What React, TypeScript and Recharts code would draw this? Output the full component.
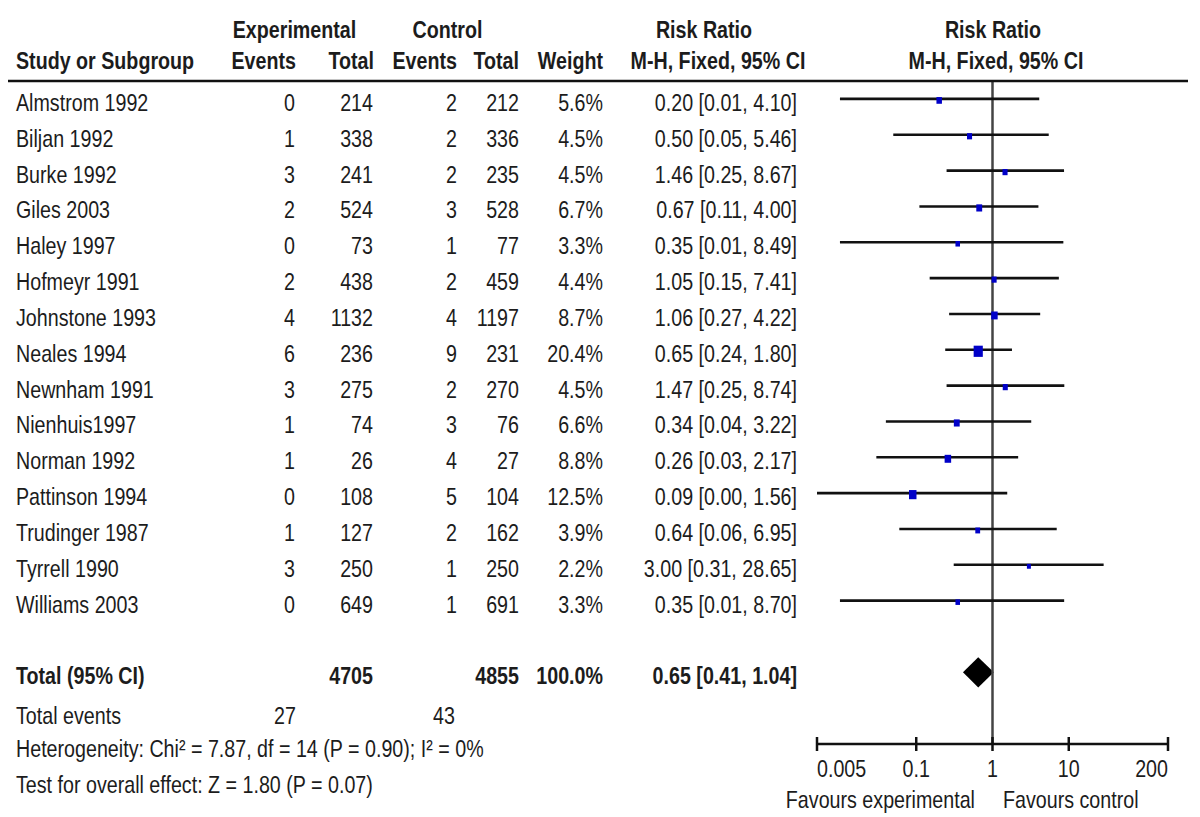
import React from 'react';
import { ScatterChart, Scatter, XAxis, YAxis, ErrorBar, ReferenceLine, ReferenceArea } from 'recharts';

// study rows
const studies = [
  'Almstrom 1992', 'Biljan 1992', 'Burke 1992', 'Giles 2003', 'Haley 1997',
  'Hofmeyr 1991', 'Johnstone 1993', 'Neales 1994', 'Newnham 1991', 'Nienhuis1997',
  'Norman 1992', 'Pattinson 1994', 'Trudinger 1987', 'Tyrrell 1990', 'Williams 2003',
];
const expEvents = [0, 1, 3, 2, 0, 2, 4, 6, 3, 1, 1, 0, 1, 3, 0];
const expTotal = [214, 338, 241, 524, 73, 438, 1132, 236, 275, 74, 26, 108, 127, 250, 649];
const ctrlEvents = [2, 2, 2, 3, 1, 2, 4, 9, 2, 3, 4, 5, 2, 1, 1];
const ctrlTotal = [212, 336, 235, 528, 77, 459, 1197, 231, 270, 76, 27, 104, 162, 250, 691];
const weights = [5.6, 4.5, 4.5, 6.7, 3.3, 4.4, 8.7, 20.4, 4.5, 6.6, 8.8, 12.5, 3.9, 2.2, 3.3];
const riskRatio = [0.20, 0.50, 1.46, 0.67, 0.35, 1.05, 1.06, 0.65, 1.47, 0.34, 0.26, 0.09, 0.64, 3.00, 0.35];
const ciLow = [0.01, 0.05, 0.25, 0.11, 0.01, 0.15, 0.27, 0.24, 0.25, 0.04, 0.03, 0.00, 0.06, 0.31, 0.01];
const ciHigh = [4.10, 5.46, 8.67, 4.00, 8.49, 7.41, 4.22, 1.80, 8.74, 3.22, 2.17, 1.56, 6.95, 28.65, 8.70];

// pooled result
const totalExp = 4705;
const totalCtrl = 4855;
const totalEventsExp = 27;
const totalEventsCtrl = 43;
const totalRR = 0.65;
const totalLow = 0.41;
const totalHigh = 1.04;

const xTicks = [0.005, 0.1, 1, 10, 200];
const X_MIN = 0.005;
const X_MAX = 200;
const TOTAL_ROW = 16;

const fmt2 = (v: number) => v.toFixed(2);

const studyPoints = studies.map((name, i) => ({
  name,
  x: riskRatio[i],
  y: i,
  w: weights[i],
  err: [riskRatio[i] - Math.max(ciLow[i], X_MIN), Math.min(ciHigh[i], X_MAX) - riskRatio[i]],
}));

// layout helpers for the text table
const ROW0 = 81;
const PITCH = 663 / 18.5;
const rowY = (i: number) => ROW0 + (i + 0.5) * PITCH;
const SX = 0.82;
const FONT = '"Liberation Sans", Arial, sans-serif';
const TXT = '#1c1c1c';

const T = ({ x, y, anchor = 'start', bold = false, children }: any) => (
  <text
    x={x / SX}
    y={y}
    textAnchor={anchor}
    fontFamily={FONT}
    fontSize={24}
    fontWeight={bold ? 'bold' : 'normal'}
    fill={TXT}
  >
    {children}
  </text>
);

const Square = (props: any) => {
  const { cx, cy, payload } = props;
  if (cx == null || cy == null) return null;
  const side = 1.6 + 1.9 * Math.sqrt(payload.w);
  return (
    <rect x={cx - side * 0.45} y={cy + 1.5 - side * 0.55} width={side * 0.9} height={side * 1.1} fill="#0000C8" />
  );
};

const Diamond = (props: any) => {
  const { x, y, width, height } = props;
  const mid = x + width * (Math.log(totalRR / totalLow) / Math.log(totalHigh / totalLow));
  const cy = y + height / 2;
  return <polygon points={`${x},${cy} ${mid},${y} ${x + width},${cy} ${mid},${y + height}`} fill="#000" />;
};

const AxisTick = (props: any) => {
  const { x, y, payload, index } = props;
  const anchor = index === 0 ? 'start' : index === xTicks.length - 1 ? 'end' : 'middle';
  return (
    <g>
      <line x1={x} x2={x} y1={y - 7} y2={y + 7} stroke="#111" strokeWidth={2.5} />
      <g transform={`scale(${SX},1)`}>
        <text x={x / SX} y={y + 33} textAnchor={anchor} fontFamily={FONT} fontSize={24} fill={TXT}>
          {payload.value}
        </text>
      </g>
    </g>
  );
};

const ForestTable = () => (
  <svg width={1200} height={817} style={{ position: 'absolute', left: 0, top: 0, pointerEvents: 'none' }}>
    <line x1={8} x2={1188} y1={81} y2={81} stroke="#111" strokeWidth={2.5} />
    <g transform={`scale(${SX},1)`}>
      {/* headers */}
      <T x={294.5} y={38} anchor="middle" bold>Experimental</T>
      <T x={447.5} y={38} anchor="middle" bold>Control</T>
      <T x={704} y={38} anchor="middle" bold>Risk Ratio</T>
      <T x={993} y={38} anchor="middle" bold>Risk Ratio</T>
      <T x={16} y={69} bold>Study or Subgroup</T>
      <T x={296} y={69} anchor="end" bold>Events</T>
      <T x={374} y={69} anchor="end" bold>Total</T>
      <T x={457} y={69} anchor="end" bold>Events</T>
      <T x={519} y={69} anchor="end" bold>Total</T>
      <T x={603} y={69} anchor="end" bold>Weight</T>
      <T x={718} y={69} anchor="middle" bold>M-H, Fixed, 95% CI</T>
      <T x={996} y={69} anchor="middle" bold>M-H, Fixed, 95% CI</T>

      {studies.map((s, i) => {
        const y = rowY(i) + 12;
        return (
          <g key={s}>
            <T x={16} y={y}>{s}</T>
            <T x={295} y={y} anchor="end">{expEvents[i]}</T>
            <T x={373} y={y} anchor="end">{expTotal[i]}</T>
            <T x={457} y={y} anchor="end">{ctrlEvents[i]}</T>
            <T x={519} y={y} anchor="end">{ctrlTotal[i]}</T>
            <T x={603} y={y} anchor="end">{weights[i].toFixed(1)}%</T>
            <T x={797} y={y} anchor="end">{`${fmt2(riskRatio[i])} [${fmt2(ciLow[i])}, ${fmt2(ciHigh[i])}]`}</T>
          </g>
        );
      })}

      <T x={16} y={rowY(TOTAL_ROW) + 12} bold>Total (95% CI)</T>
      <T x={373} y={rowY(TOTAL_ROW) + 12} anchor="end" bold>{totalExp}</T>
      <T x={519} y={rowY(TOTAL_ROW) + 12} anchor="end" bold>{totalCtrl}</T>
      <T x={603} y={rowY(TOTAL_ROW) + 12} anchor="end" bold>100.0%</T>
      <T x={797} y={rowY(TOTAL_ROW) + 12} anchor="end" bold>{`${fmt2(totalRR)} [${fmt2(totalLow)}, ${fmt2(totalHigh)}]`}</T>

      <T x={16} y={724}>Total events</T>
      <T x={296} y={724} anchor="end">{totalEventsExp}</T>
      <T x={455} y={724} anchor="end">{totalEventsCtrl}</T>
      <T x={16} y={757}>Heterogeneity: Chi² = 7.87, df = 14 (P = 0.90); I² = 0%</T>
      <T x={16} y={793}>Test for overall effect: Z = 1.80 (P = 0.07)</T>

      <T x={975} y={808} anchor="end">Favours experimental</T>
      <T x={1003} y={808}>Favours control</T>
    </g>
  </svg>
);

export default function App() {
  return (
    <div style={{ position: 'absolute', left: 0, top: 0, width: 1200, height: 817, background: '#fff' }}>
      <div style={{ position: 'absolute', left: 0, top: 0 }}>
        <ScatterChart width={1200} height={817} margin={{ top: 81, right: 32, bottom: 33, left: 817 }}>
          <XAxis
            type="number"
            dataKey="x"
            scale="log"
            domain={[X_MIN, X_MAX]}
            allowDataOverflow
            ticks={xTicks}
            interval={0}
            height={40}
            tickSize={0}
            tickMargin={0}
            tickLine={false}
            axisLine={{ stroke: '#111', strokeWidth: 2.5 }}
            tick={<AxisTick />}
          />
          <YAxis type="number" dataKey="y" domain={[-0.5, 18]} reversed hide allowDataOverflow />
          <ReferenceLine x={1} stroke="#444" strokeWidth={2.5} />
          <ReferenceArea
            x1={totalLow}
            x2={totalHigh}
            y1={TOTAL_ROW - 0.42}
            y2={TOTAL_ROW + 0.42}
            shape={<Diamond />}
          />
          <Scatter data={studyPoints} shape={<Square />} isAnimationActive={false}>
            <ErrorBar dataKey="err" direction="x" width={0} stroke="#111" strokeWidth={2.6} isAnimationActive={false} />
          </Scatter>
        </ScatterChart>
      </div>
      <ForestTable />
    </div>
  );
}
